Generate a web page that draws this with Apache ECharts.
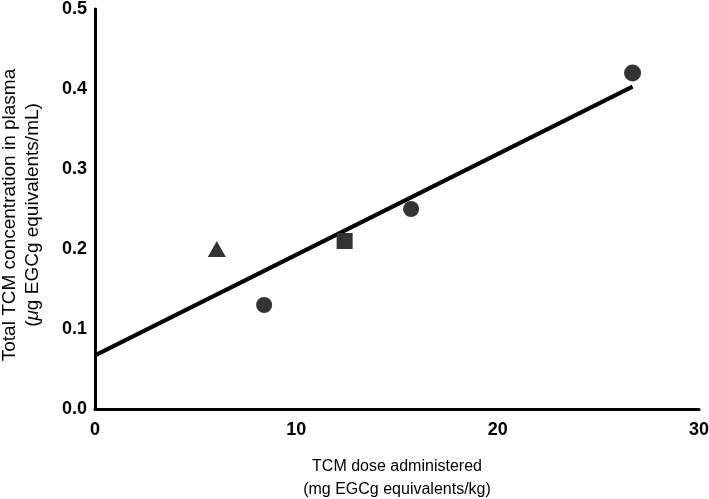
<!DOCTYPE html>
<html>
<head>
<meta charset="utf-8">
<script src="https://cdn.jsdelivr.net/npm/echarts@6/dist/echarts.min.js"></script>
<style>
html,body{margin:0;padding:0;background:#fff;}
#chart{width:709px;height:499px;}
</style>
</head>
<body>
<div id="chart"></div>
<script>
// Observed data points
var doseX = [6.05, 8.4, 12.4, 15.7, 26.7];
var concY = [0.20, 0.13, 0.21, 0.25, 0.42];
var pointSymbols = ['triangle', 'circle', 'rect', 'circle', 'circle'];
var pointSizes = [[18, 16], 16, 16, 16, 17];
// Regression line end points
var fitX = [0, 26.7];
var fitY = [0.067, 0.403];
// Axis ticks
var xTicks = [0, 10, 20, 30];
var yTicks = [0.0, 0.1, 0.2, 0.3, 0.4, 0.5];

var chart = echarts.init(document.getElementById('chart'));
var pts = doseX.map(function (x, i) {
  return { value: [x, concY[i]], symbol: pointSymbols[i], symbolSize: pointSizes[i] };
});
var fit = fitX.map(function (x, i) { return [x, fitY[i]]; });

var FONT = 'Liberation Sans, Arial, sans-serif';
var labelStyle = { color: '#000', fontWeight: 'bold', fontSize: 18, fontFamily: FONT };

chart.setOption({
  animation: false,
  backgroundColor: '#fff',
  grid: { left: 95, right: 10, top: 9, bottom: 90, containLabel: false, outerBoundsMode: 'none' },
  xAxis: {
    type: 'value', min: xTicks[0], max: xTicks[xTicks.length - 1], interval: 10,
    axisLine: { show: true, onZero: false, lineStyle: { color: '#000', width: 3 } },
    axisTick: { show: false },
    splitLine: { show: false },
    axisLabel: Object.assign({ margin: 12 }, labelStyle),
    name: 'TCM dose administered\n(mg EGCg equivalents/kg)',
    nameLocation: 'middle', nameGap: 46,
    nameTextStyle: { color: '#000', fontSize: 16, fontFamily: FONT, lineHeight: 23 }
  },
  yAxis: {
    type: 'value', min: yTicks[0], max: yTicks[yTicks.length - 1], interval: 0.1,
    axisLine: { show: true, onZero: false, lineStyle: { color: '#000', width: 3 } },
    axisTick: { show: false },
    splitLine: { show: false },
    axisLabel: Object.assign({ margin: 8, formatter: function (v) { return v.toFixed(1); } }, labelStyle),
    name: 'Total TCM concentration in plasma\n({it|μ}g EGCg equivalents/mL)',
    nameLocation: 'middle', nameGap: 51,
    nameTextStyle: {
      color: '#000', fontSize: 19, fontFamily: FONT, lineHeight: 23,
      padding: [0, 12, 0, 0],
      rich: { it: { fontStyle: 'italic', fontSize: 19, color: '#000', fontFamily: FONT, lineHeight: 23 } }
    }
  },
  series: [
    {
      type: 'line', data: fit, showSymbol: false, symbol: 'none',
      lineStyle: { color: '#000', width: 4 }, z: 2
    },
    {
      type: 'scatter', data: pts,
      itemStyle: { color: '#333333', opacity: 1 }, z: 3
    }
  ]
});
</script>
</body>
</html>
